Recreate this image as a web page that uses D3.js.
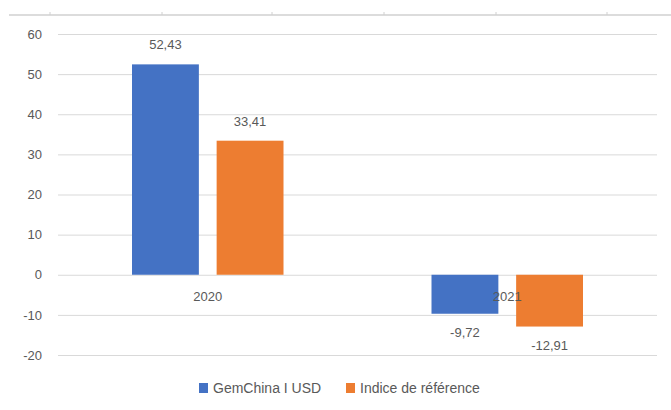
<!DOCTYPE html>
<html>
<head>
<meta charset="utf-8">
<script src="https://cdn.jsdelivr.net/npm/d3@7"></script>
<style>
  body { margin: 0; background: #fff; }
  text { font-family: "Liberation Sans", sans-serif; fill: #595959; }
</style>
</head>
<body>
<svg width="671" height="410"></svg>
<script>
var years = ["2020", "2021"];
var seriesNames = ["GemChina I USD", "Indice de référence"];
var gemChina = [52.43, -9.72];
var indice = [33.41, -12.91];
var yTicks = [-20, -10, 0, 10, 20, 30, 40, 50, 60];
var colors = ["#4472C4", "#ED7D31"];

var svg = d3.select("svg"),
    margin = {top: 34, right: 14, bottom: 55, left: 58},
    width = +svg.attr("width") - margin.left - margin.right,
    height = +svg.attr("height") - margin.top - margin.bottom,
    g = svg.append("g").attr("transform", "translate(" + margin.left + "," + margin.top + ")");

// remnant of the table rule above the chart
var topTicks = [50, 162, 272, 384, 496, 607];
svg.append("line").attr("x1", 9).attr("x2", 671).attr("y1", 15).attr("y2", 15)
    .attr("stroke", "#d0d0d0").attr("stroke-width", 1.5);
svg.selectAll(".tt").data(topTicks).enter().append("line")
    .attr("x1", function(d) { return d; }).attr("x2", function(d) { return d; })
    .attr("y1", 12).attr("y2", 15).attr("stroke", "#d0d0d0");

var data = years.map(function(y, i) {
  return {year: y, values: [{key: 0, value: gemChina[i]}, {key: 1, value: indice[i]}]};
});

var x0 = d3.scaleBand().domain(years).range([0, width]);
var x1 = d3.scaleBand().domain([0, 1]).range([74, x0.bandwidth() - 74]).paddingInner(0.21);
var y = d3.scaleLinear().domain([-20, 60]).range([height, 0]);

// hyphen instead of unicode minus, comma decimal
var hy = function(s) { return s.replace("\u2212", "-"); };
var fmt = function(v) { return hy(d3.format(".2f")(v)).replace(".", ","); };

// grid
g.append("g")
    .call(d3.axisLeft(y).tickValues(yTicks).tickSize(-width).tickPadding(16)
      .tickFormat(function(d) { return hy(d3.format("d")(d)); }))
    .call(function(a) { a.select(".domain").remove(); })
    .call(function(a) { a.selectAll("line").attr("stroke", "#d9d9d9"); })
    .call(function(a) { a.selectAll("text").style("font-size", "13px").attr("fill", "#595959"); });

var bar = g.append("g").selectAll("g")
    .data(data)
    .enter().append("g")
    .attr("transform", function(d) { return "translate(" + x0(d.year) + ",0)"; });

bar.selectAll("rect")
    .data(function(d) { return d.values; })
    .enter().append("rect")
    .attr("x", function(d) { return x1(d.key); })
    .attr("y", function(d) { return y(Math.max(0, d.value)); })
    .attr("width", x1.bandwidth())
    .attr("height", function(d) { return Math.abs(y(d.value) - y(0)); })
    .attr("fill", function(d) { return colors[d.key]; });

bar.selectAll(".lbl")
    .data(function(d) { return d.values; })
    .enter().append("text")
    .attr("x", function(d) { return x1(d.key) + x1.bandwidth() / 2; })
    .attr("y", function(d) { return d.value >= 0 ? y(d.value) - 15 : y(d.value) + 23; })
    .attr("text-anchor", "middle")
    .style("font-size", "13px")
    .text(function(d) { return fmt(d.value); });

// category labels just under the zero line
g.selectAll(".cat").data(years).enter().append("text")
    .attr("x", function(d) { return x0(d) + x0.bandwidth() / 2; })
    .attr("y", y(0) + 26)
    .attr("text-anchor", "middle")
    .style("font-size", "13px")
    .text(function(d) { return d; });

// legend
var legendX = [199, 346];
var legend = svg.selectAll(".leg").data(seriesNames).enter().append("g")
    .attr("transform", function(d, i) { return "translate(" + legendX[i] + ",383)"; });
legend.append("rect").attr("width", 9).attr("height", 10)
    .attr("fill", function(d, i) { return colors[i]; });
legend.append("text").attr("x", 14).attr("y", 10)
    .style("font-size", "14px")
    .text(function(d) { return d; });
</script>
</body>
</html>
